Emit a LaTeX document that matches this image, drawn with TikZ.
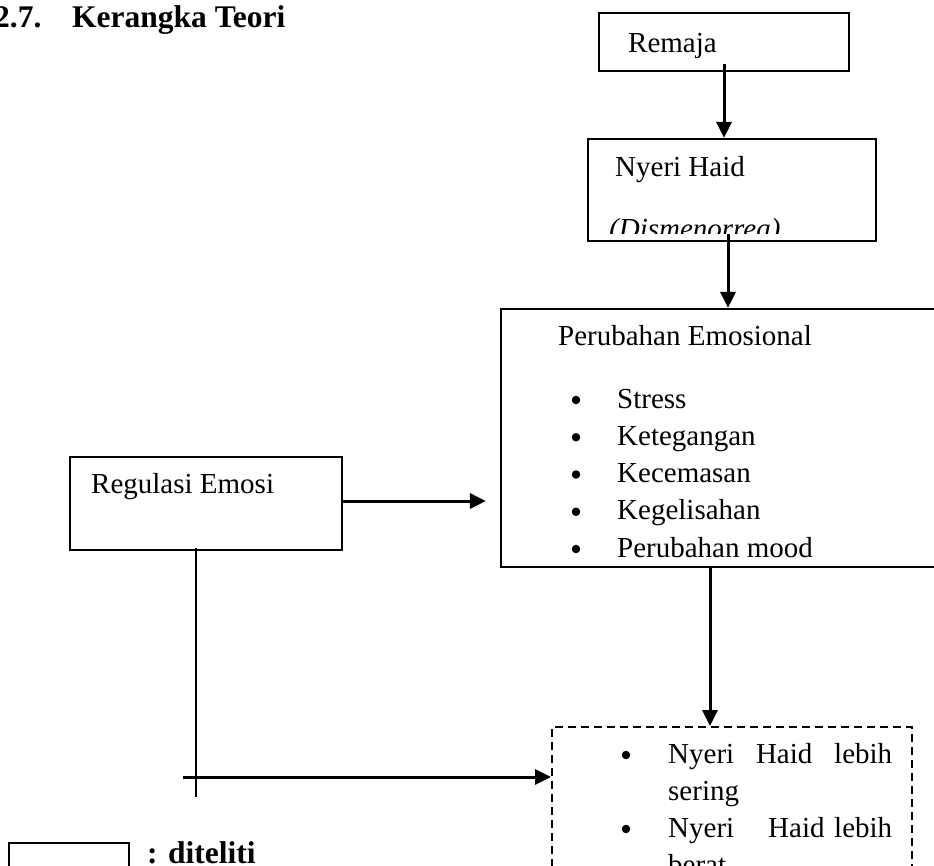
\documentclass[tikz,border=0pt]{standalone}
\usepackage{fontspec}
\setmainfont{Liberation Serif}
\usetikzlibrary{arrows.meta}

\begin{document}
\begin{tikzpicture}[x=1pt,y=-1pt,
  box/.style={draw,line width=2.2pt,inner sep=0pt},
  dbox/.style={box,line width=2pt,dash pattern=on 8pt off 5pt},
  txt/.style={anchor=base west,inner sep=0pt,font=\fontsize{29}{35}\selectfont},
  head/.style={anchor=base west,inner sep=0pt,font=\fontsize{31.5}{38}\selectfont\bfseries},
  dot/.style={circle,fill,inner sep=0pt,minimum size=8.5pt},
  ln/.style={line width=2.2pt},
  ar/.style={-{Triangle[length=16pt,width=15pt]},line width=3pt}]
\useasboundingbox (0,0) rectangle (934,865);
\clip (0,0) rectangle (934,865);
% judul
\node[head] (num) at (-6,27) {2.7.};
\node[head] (title) at (72,27) {Kerangka Teori};
% kotak
\node[box,minimum width=250,minimum height=58] (remaja) at (724,42) {};
\node[box,minimum width=288,minimum height=102] (nyeri) at (732,190) {};
\node[box,minimum width=449,minimum height=258] (emosi) at (725.5,438) {};
\node[box,minimum width=272,minimum height=93] (regulasi) at (206,503.5) {};
\node[dbox,minimum width=360,minimum height=253] (dampak) at (732,853.5) {};
\node[box,minimum width=120,minimum height=57] (legend) at (69,871.5) {};
% teks
\node[txt] (tRemaja) at (628,52) {Remaja};
\node[txt] (tNyeri) at (615,176) {Nyeri Haid};
\begin{scope}
  \clip (588,139) rectangle (876,233);
  \node[txt] (tDis) at (609,238) {\itshape (Dismenorrea)};
\end{scope}
\node[txt] (tEmosi) at (558,345) {Perubahan Emosional};
\foreach \t [count=\i] in {Stress,Ketegangan,Kecemasan,Kegelisahan,Perubahan mood}{
  \node[dot] (b\i) at (576,{362.75+37.25*\i}) {};
  \node[txt] (e\i) at (617,{370.75+37.25*\i}) {\t};
}
\node[txt] (tReg) at (91,493) {Regulasi Emosi};
\node[dot] (db1) at (626,755) {};
\node[txt] (d1) at (668,763) {\hbox to 224pt{Nyeri\hfill Haid\hfill lebih}};
\node[txt] (d2) at (668,800) {sering};
\node[dot] (db2) at (626,829) {};
\node[txt] (d3) at (668,837) {\hbox to 224pt{Nyeri\hspace{34pt}Haid\hfill lebih}};
\node[txt] (d4) at (668,874) {berat};
\node[head] (tLegend) at (147,863) {: diteliti};
% panah
\draw[ar] ([yshift=8pt]remaja.south) -- (remaja.south |- nyeri.north);
\draw[ar] ([xshift=-4pt,yshift=8pt]nyeri.south) -- ([xshift=2.5pt]emosi.north);
\draw[ar] ([xshift=-15.5pt]emosi.south) -- ([xshift=-22pt]dampak.north);
\path ([yshift=2.5pt]regulasi.east) coordinate (regE);
\path (emosi.west |- regE) ++(-14,0) coordinate (tipA);
\draw[ar] (regE) -- (tipA);
\coordinate (vbot) at (196,797);
\coordinate (hstart) at (183,777);
\draw[ln] ([xshift=-10pt,yshift=3pt]regulasi.south) -- (vbot);
\draw[ar] (hstart) -- (hstart -| dampak.west);
\end{tikzpicture}
\end{document}
